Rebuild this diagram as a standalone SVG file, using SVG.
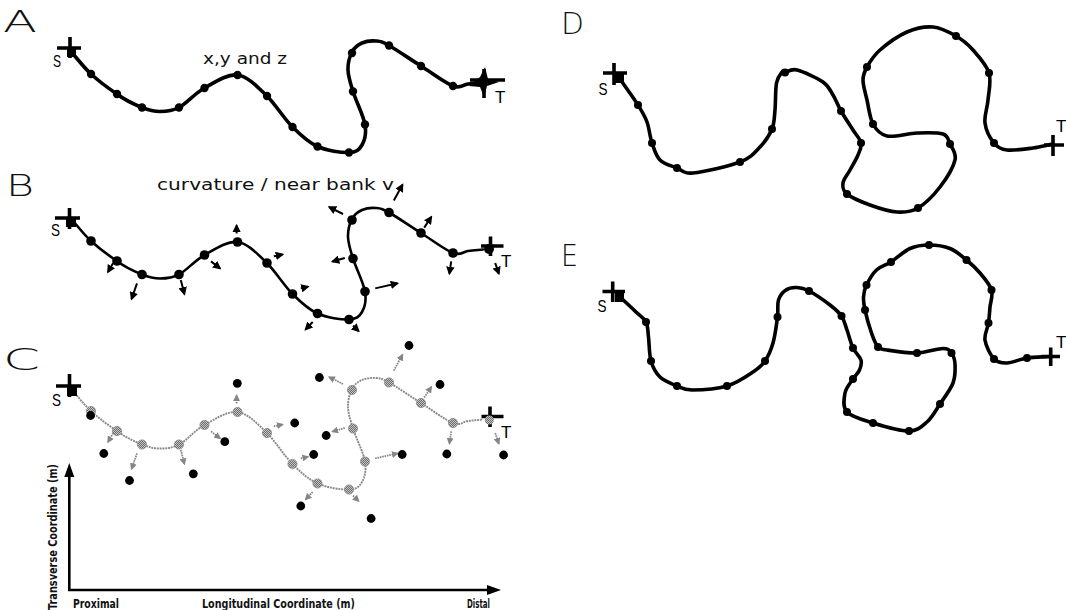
<svg xmlns="http://www.w3.org/2000/svg" xmlns:xlink="http://www.w3.org/1999/xlink" width="1066" height="610" viewBox="0 0 1066 610">
  <style>
    .panel-label { font-family: 'DejaVu Sans', 'Liberation Sans', sans-serif; font-weight: 200; font-size: 30px; fill: #111; }
    .note { font-family: 'DejaVu Sans', 'Liberation Sans', sans-serif; font-size: 15px; fill: #111; }
    .end-label { font-family: 'Liberation Sans', 'DejaVu Sans', sans-serif; font-size: 17px; fill: #000; }
    .axis-text { font-family: 'DejaVu Sans', 'Liberation Sans', sans-serif; font-weight: bold; font-size: 12.5px; fill: #111; }
    .bar { fill: none; stroke: #000; stroke-width: 3.6; }
    .river-a { fill: none; stroke: #000; stroke-width: 3.6; stroke-linejoin: round; stroke-linecap: round; }
    .river-b { fill: none; stroke: #000; stroke-width: 2.6; stroke-linejoin: round; stroke-linecap: round; }
    .river-c { fill: none; stroke: #8a8a8a; stroke-width: 1.9; stroke-dasharray: 2 0.8; stroke-linejoin: round; }
    .river-de { fill: none; stroke: #000; stroke-width: 3.6; stroke-linejoin: round; stroke-linecap: round; }
    .vec-b { stroke: #000; stroke-width: 2; marker-end: url(#head-black); }
    .vec-c { stroke: #868686; stroke-width: 1.8; stroke-dasharray: 1.6 0.8; marker-end: url(#head-grey); }
    .axis { stroke: #000; stroke-width: 2.6; fill: none; }
  </style>
  <defs>
    <marker id="head-black" viewBox="0 0 10 10" refX="8" refY="5" markerWidth="8.5" markerHeight="8.5" markerUnits="userSpaceOnUse" orient="auto">
      <path d="M0,0 L10,5 L0,10 z" fill="#000"/>
    </marker>
    <marker id="head-grey" viewBox="0 0 10 10" refX="8" refY="5" markerWidth="7" markerHeight="7" markerUnits="userSpaceOnUse" orient="auto">
      <path d="M0,0 L10,5 L0,10 z" fill="#858585"/>
    </marker>
    <pattern id="grain" width="2" height="2" patternUnits="userSpaceOnUse">
      <rect width="2" height="2" fill="#c4c4c4"/>
      <rect width="1" height="1" fill="#6c6c6c"/>
      <rect x="1" y="1" width="1" height="1" fill="#6c6c6c"/>
    </pattern>

    <!-- channel centreline shared by panels A, B and C -->
    <path id="channel-abc" d="M73,54 C79,60.7 83.7,67.3 91,74 C98.3,80.7 108.5,88.4 117,94 C124.2,99.6 134.8,104.6 142,107.5 C149.2,110.4 153.8,111.5 160,111.5 C166.2,111.5 171.6,111.4 179,107.5 C186.4,103.6 194.75,93.4 204.5,88 C214.25,82.6 227.1,73.7 237.5,75 C247.9,76.3 257.8,87.3 267,96 C275.4,104.4 284.1,118.6 292.5,127 C300.9,135.4 308.1,142.25 317.5,146.5 C326.9,150.75 341.6,152.75 349,152.5 C356.4,152.25 359.3,149.7 362,145 C364.7,140.3 366.5,133.4 365,124.5 C363.5,115.6 355.8,100.6 353,91.5 C350.2,82.4 348.2,76.6 348,70 C347.8,63.4 349.7,56.5 352,52 C354.3,47.5 358,44.8 362,43 C366,41.2 371.5,40.6 376,41 C380.5,41.4 381.5,41.3 389,45.5 C396.5,49.7 410.3,59.25 421,66 C431.7,72.75 445.2,83 453,86 C460.8,89 463,84.6 468,84 C473,83.4 478,83 483,82.5"/>

    <!-- near-bank velocity vectors, drawn in panel A coordinates -->
    <g id="bank-vectors">
      <line x1="113.2" y1="96" x2="108" y2="105"/>
      <line x1="137" y1="116.4" x2="131.6" y2="132"/>
      <line x1="180.8" y1="113" x2="184.4" y2="127"/>
      <line x1="211" y1="94.4" x2="220" y2="101.4"/>
      <line x1="236.6" y1="66.5" x2="236.6" y2="58.5"/>
      <line x1="273.8" y1="89.3" x2="282.5" y2="87.5"/>
      <line x1="300.8" y1="121.4" x2="308" y2="119.7"/>
      <line x1="312.7" y1="155" x2="305.6" y2="162.4"/>
      <line x1="353" y1="158.6" x2="358.6" y2="164"/>
      <line x1="375.2" y1="121.4" x2="397.5" y2="116.3"/>
      <line x1="344.8" y1="91" x2="332.5" y2="94.5"/>
      <line x1="343" y1="47" x2="329.2" y2="40.1"/>
      <line x1="393.8" y1="33.6" x2="402.5" y2="17.8"/>
      <line x1="424.2" y1="60.6" x2="431.3" y2="50"/>
      <line x1="451.2" y1="94.4" x2="449.4" y2="106.6"/>
      <line x1="495.2" y1="96" x2="498.8" y2="106.6"/>
    </g>
  </defs>

  <rect width="1066" height="610" fill="#fff"/>

  <!-- Panel A: x, y and z of the centreline -->
  <g id="panel-a">
    <text class="panel-label" x="3" y="32" textLength="34" lengthAdjust="spacingAndGlyphs">A</text>
    <text class="note" x="203" y="64" textLength="84" lengthAdjust="spacingAndGlyphs">x,y and z</text>
    <use xlink:href="#channel-abc" class="river-a"/>
    <g id="a-nodes" fill="#000">
      <circle cx="91" cy="74" r="4.2"/><circle cx="117" cy="94" r="4.2"/><circle cx="142" cy="107.5" r="4.2"/>
      <circle cx="179" cy="107.5" r="4.2"/><circle cx="204.5" cy="88" r="4.2"/><circle cx="237.5" cy="75" r="4.2"/>
      <circle cx="267" cy="96" r="4.2"/><circle cx="292.5" cy="127" r="4.2"/><circle cx="317.5" cy="146.5" r="4.2"/>
      <circle cx="349" cy="152.5" r="4.2"/><circle cx="365" cy="124.5" r="4.2"/><circle cx="353" cy="91.5" r="4.2"/>
      <circle cx="352" cy="53" r="4.2"/><circle cx="389" cy="45.5" r="4.2"/><circle cx="421" cy="66" r="4.2"/>
      <circle cx="453" cy="86" r="4.2"/>
    </g>
    <g id="a-source">
      <path class="bar" d="M57,48 H81 M70,37 V58"/>
      <rect x="67" y="48" width="9" height="9" fill="#000"/>
      <text class="end-label" x="53" y="67" textLength="8" lengthAdjust="spacingAndGlyphs">S</text>
    </g>
    <g id="a-target">
      <path class="bar" d="M470,80 H505 M484,69 V98"/>
      <polygon points="469,86 480,77 485,67 488,79 499,82 487,86 484,97 480,87" fill="#000"/>
      <text class="end-label" x="495" y="103" font-size="15">T</text>
    </g>
  </g>

  <!-- Panel B: curvature and near-bank velocity -->
  <g id="panel-b">
    <text class="panel-label" x="6" y="195.5" textLength="28" lengthAdjust="spacingAndGlyphs">B</text>
    <text class="note" x="157" y="190" textLength="237" lengthAdjust="spacingAndGlyphs">curvature / near bank v</text>
    <use xlink:href="#channel-abc" class="river-b" transform="translate(0,167)"/>
    <use xlink:href="#bank-vectors" class="vec-b" transform="translate(0,167)"/>
    <g id="b-nodes" fill="#000" transform="translate(0,167)">
      <circle cx="91" cy="74" r="4.8"/><circle cx="117" cy="94" r="4.8"/><circle cx="142" cy="107.5" r="4.8"/>
      <circle cx="179" cy="107.5" r="4.8"/><circle cx="204.5" cy="88" r="4.8"/><circle cx="237.5" cy="75" r="4.8"/>
      <circle cx="267" cy="96" r="4.8"/><circle cx="292.5" cy="127" r="4.8"/><circle cx="317.5" cy="146.5" r="4.8"/>
      <circle cx="349" cy="152.5" r="4.8"/><circle cx="365" cy="124.5" r="4.8"/><circle cx="353" cy="91.5" r="4.8"/>
      <circle cx="352" cy="53" r="4.8"/><circle cx="389" cy="45.5" r="4.8"/><circle cx="421" cy="66" r="4.8"/>
      <circle cx="453" cy="86" r="4.8"/>
    </g>
    <g id="b-source">
      <path class="bar" d="M55,218 H80 M69.5,208 V229"/>
      <rect x="66" y="217" width="10" height="10" fill="#000"/>
      <text class="end-label" x="51" y="236" textLength="9" lengthAdjust="spacingAndGlyphs">S</text>
    </g>
    <g id="b-target">
      <path class="bar" d="M481,246 H503.5 M490.5,236.5 V256"/>
      <circle cx="489" cy="249" r="5" fill="#000"/>
      <text class="end-label" x="501" y="267" font-size="15">T</text>
    </g>
  </g>

  <!-- Panel C: centreline nodes, vectors and offset bank nodes -->
  <g id="panel-c">
    <text class="panel-label" x="3" y="370" textLength="37" lengthAdjust="spacingAndGlyphs">C</text>
    <use xlink:href="#channel-abc" class="river-c" transform="translate(0,337)"/>
    <use xlink:href="#bank-vectors" class="vec-c" transform="translate(0,337)"/>
    <g id="c-centre-nodes" fill="url(#grain)" stroke="#8c8c8c" stroke-width="0.8" transform="translate(0,337)">
      <circle cx="91" cy="74" r="4.6"/><circle cx="117" cy="94" r="4.6"/><circle cx="142" cy="107.5" r="4.6"/>
      <circle cx="179" cy="107.5" r="4.6"/><circle cx="204.5" cy="88" r="4.6"/><circle cx="237.5" cy="75" r="4.6"/>
      <circle cx="267" cy="96" r="4.6"/><circle cx="292.5" cy="127" r="4.6"/><circle cx="317.5" cy="146.5" r="4.6"/>
      <circle cx="349" cy="152.5" r="4.6"/><circle cx="365" cy="124.5" r="4.6"/><circle cx="353" cy="91.5" r="4.6"/>
      <circle cx="352" cy="53" r="4.6"/><circle cx="389" cy="45.5" r="4.6"/><circle cx="421" cy="66" r="4.6"/>
      <circle cx="453" cy="86" r="4.6"/>
    </g>
    <g id="c-bank-nodes" fill="#000">
      <circle cx="90.6" cy="415.5" r="4.4"/><circle cx="103.8" cy="453.5" r="4.4"/><circle cx="129.5" cy="480.5" r="4.4"/>
      <circle cx="193.3" cy="473.8" r="4.4"/><circle cx="224.8" cy="441.7" r="4.4"/><circle cx="237.3" cy="383.3" r="4.4"/>
      <circle cx="294.7" cy="423" r="4.4"/><circle cx="313.7" cy="454.5" r="4.4"/><circle cx="326.2" cy="435.5" r="4.4"/>
      <circle cx="300.8" cy="506" r="4.4"/><circle cx="371.1" cy="518.5" r="4.4"/><circle cx="402.2" cy="454.5" r="4.4"/>
      <circle cx="319.4" cy="377.5" r="4.4"/><circle cx="409" cy="345.5" r="4.4"/><circle cx="440" cy="384.5" r="4.4"/>
      <circle cx="446.8" cy="454" r="4.4"/><circle cx="503.6" cy="455" r="4.4"/>
    </g>
    <g id="c-source">
      <path class="bar" d="M56,386 H81 M69.5,374 V397"/>
      <rect x="67" y="386" width="10" height="10" fill="#000"/>
      <text class="end-label" x="52" y="405.5" textLength="9" lengthAdjust="spacingAndGlyphs">S</text>
    </g>
    <g id="c-target">
      <path class="bar" d="M481.5,416.5 H503.5 M490,406.5 V427"/>
      <circle cx="489.3" cy="420" r="4.6" fill="url(#grain)"/>
      <text class="end-label" x="501" y="438" font-size="15">T</text>
    </g>
    <g id="c-axes">
      <path class="axis" d="M69.3,591 V474 M68,590 H490"/>
      <polygon points="69.3,463 64.3,477 74.3,477" fill="#000"/>
      <polygon points="501,590 487,585 487,595" fill="#000"/>
      <text class="axis-text" transform="translate(57,537) rotate(-90)" text-anchor="middle" textLength="146" lengthAdjust="spacingAndGlyphs">Transverse Coordinate (m)</text>
      <text class="axis-text" x="73" y="608" textLength="46" lengthAdjust="spacingAndGlyphs">Proximal</text>
      <text class="axis-text" x="202" y="608" textLength="153" lengthAdjust="spacingAndGlyphs">Longitudinal Coordinate (m)</text>
      <text class="axis-text" x="467" y="608" textLength="23" lengthAdjust="spacingAndGlyphs">Distal</text>
    </g>
  </g>

  <!-- Panel D: migrated centreline -->
  <g id="panel-d">
    <text class="panel-label" x="561" y="34" font-size="28" textLength="23" lengthAdjust="spacingAndGlyphs">D</text>
    <path class="river-de" d="M620,79 C626,87.7 633.5,97.8 638,105 C642.5,112.2 644.7,115.7 647,122 C649.3,128.3 649.8,136.7 652,143 C654.2,149.3 655.8,155.8 660,160 C664.2,164.2 671.5,165.8 677,168 C682.5,170.2 682.5,174 693,173 C703.5,172 728.8,166.3 740,162 C751.2,157.7 754.7,152.5 760,147 C765.3,141.5 769.5,135.2 772,129 C774.5,122.8 774.25,117.7 775,110 C775.75,102.3 775.3,89.3 776.5,83 C777.7,76.7 780.6,73.75 782,72 C783.4,70.25 782.5,72.8 785,72.5 C787.5,72.2 790.7,68.4 797,70 C803.3,71.6 817,77.8 823,82 C829,86.2 830,90.2 833,95 C836,99.8 837.7,105.2 841,111 C844.3,116.8 849.7,124.7 853,130 C856.3,135.3 860.2,138.8 861,143 C861.8,147.2 859.8,150.5 858,155 C856.2,159.5 852.5,165.3 850,170 C847.5,174.7 843.5,179 843,183 C842.5,187 842.5,190.3 847,194 C851.5,197.7 861.7,202 870,205 C878.3,208 889,211.5 897,212 C905,212.5 910.8,212.2 918,208 C925.2,203.8 933.8,195 940,187 C946.2,179 953.3,167.2 955,160 C956.7,152.8 952,148.3 950,144 C948,139.7 948.5,135.8 943,134 C937.5,132.2 926.3,132.7 917,133 C907.7,133.3 894.3,137.5 887,136 C879.7,134.5 876.3,130 873,124 C869.7,118 868.7,107.3 867,100 C865.3,92.7 863,85.5 863,80 C863,74.5 864.2,72 867,67 C869.8,62 873.3,55.8 880,50 C886.7,44.2 898.2,35.8 907,32 C915.8,28.2 924.8,26.3 933,27 C941.2,27.7 949.3,32.2 956,36 C962.7,39.8 967.5,43.8 973,50 C978.5,56.2 986.5,64.7 989,73 C991.5,81.3 988.7,91.7 988,100 C987.3,108.3 984,115.8 985,123 C986,130.2 990.3,138.5 994,143 C997.7,147.5 1000.5,149.2 1007,150 C1013.5,150.8 1025.3,149 1033,148 C1040.7,147 1046.3,145.3 1053,144"/>
    <g id="d-nodes" fill="#000">
      <circle cx="638" cy="105" r="4"/><circle cx="652" cy="143" r="4"/><circle cx="677" cy="168" r="4"/>
      <circle cx="740" cy="162" r="4"/><circle cx="772" cy="129" r="4"/><circle cx="785" cy="72.5" r="4"/>
      <circle cx="841" cy="111" r="4"/><circle cx="861" cy="143" r="4"/><circle cx="847" cy="194" r="4"/>
      <circle cx="918" cy="208" r="4"/><circle cx="950" cy="144" r="4"/><circle cx="873" cy="124" r="4"/>
      <circle cx="867" cy="67" r="4"/><circle cx="956" cy="36" r="4"/><circle cx="989" cy="73" r="4"/>
      <circle cx="994" cy="143" r="4"/>
    </g>
    <g id="d-source">
      <path class="bar" d="M603,73 H627 M614,63 V85" stroke-width="3"/>
      <rect x="615" y="73" width="9" height="10" fill="#000"/>
      <text class="end-label" x="598.5" y="95" textLength="9" lengthAdjust="spacingAndGlyphs">S</text>
    </g>
    <g id="d-target">
      <path class="bar" d="M1044,145 H1064 M1053,135 V156" stroke-width="3"/>
      <text class="end-label" x="1056" y="132" font-size="14">T</text>
    </g>
  </g>

  <!-- Panel E: migrated centreline with refined node spacing -->
  <g id="panel-e">
    <text class="panel-label" x="561" y="266" font-size="28" textLength="17" lengthAdjust="spacingAndGlyphs">E</text>
    <path class="river-de" d="M620,297 C625.3,302 631.7,307.8 636,312 C640.3,316.2 643.9,317.8 646,322 C648.1,326.2 647.7,330.5 648.5,337 C649.3,343.5 649.1,354.3 651,361 C652.9,367.7 655.7,372.8 660,377 C664.3,381.2 671.7,383.8 677,386 C682.3,388.2 683.7,390 692,390 C700.3,390 716.8,389 727,386 C737.2,383 746.7,376.2 753,372 C759.3,367.8 761.7,365.8 765,361 C768.3,356.2 770.9,350.3 773,343 C775.1,335.7 776.6,324.2 777.5,317 C778.4,309.8 777.1,304.5 778.5,300 C779.9,295.5 782.9,292.1 786,290 C789.1,287.9 793.2,287.3 797,287.5 C800.8,287.7 803.5,288.1 809,291 C814.5,293.9 824.6,300.8 830,305 C835.4,309.2 838.7,311.8 841.5,316 C844.3,320.2 845.1,324.7 847,330 C848.9,335.3 850.7,343 853,348 C855.3,353 859.9,356.3 861,360 C862.1,363.7 860.8,366.8 859.5,370 C858.2,373.2 855.4,375.2 853,379 C850.6,382.8 846,387.5 845,393 C844,398.5 842.3,407 847,412 C851.7,417 862.7,419.8 873,423 C883.3,426.2 900,431.2 909,431 C918,430.8 921.8,426.5 927,422 C932.2,417.5 935.7,410.5 940,404 C944.3,397.5 950.5,389.7 953,383 C955.5,376.3 955.25,369 955,364 C954.75,359 953.5,355.6 951.5,353 C949.5,350.4 948.75,348.5 943,348.5 C937.25,348.5 926.3,352.75 917,353 C907.7,353.25 893.5,351 887,350 C880.5,349 880.6,349.8 878,347 C875.4,344.2 873.7,339.2 871.5,333 C869.3,326.8 866.3,316 865,310 C863.7,304 863.25,301.2 863.5,297 C863.75,292.8 864.3,289.5 866.5,285 C868.7,280.5 872.4,273.8 876.5,270 C880.6,266.2 885.4,265.6 891,262 C896.6,258.4 903.7,251.3 910,248.5 C916.3,245.7 922.3,245 929,245 C935.7,245 943.75,246 950,248.5 C956.25,251 961.5,255.9 966.5,260 C971.5,264.1 975.8,268 980,273 C984.2,278 989.8,284.3 991.5,290 C993.2,295.7 990.5,301.5 990,307 C989.5,312.5 989.3,317.5 988.5,323 C987.7,328.5 984.1,334 985,340 C985.9,346 990.3,355.2 994,359 C997.7,362.8 1001.5,363.2 1007,363 C1012.5,362.8 1019.8,359.1 1027,358 C1034.2,356.9 1042.3,357 1050,356.5"/>
    <g id="e-nodes" fill="#000">
      <circle cx="646" cy="322" r="4"/><circle cx="651" cy="361" r="4"/><circle cx="677" cy="386" r="4"/>
      <circle cx="727" cy="386" r="4"/><circle cx="765" cy="361" r="4"/><circle cx="777.5" cy="317" r="4"/>
      <circle cx="809" cy="291" r="4"/><circle cx="841.5" cy="316" r="4"/><circle cx="853" cy="348" r="4"/>
      <circle cx="853" cy="379" r="4"/><circle cx="847" cy="412" r="4"/><circle cx="873" cy="423" r="4"/>
      <circle cx="909" cy="431" r="4"/><circle cx="940" cy="404" r="4"/><circle cx="951.5" cy="353" r="4"/>
      <circle cx="917" cy="353" r="4"/><circle cx="878" cy="347" r="4"/><circle cx="865" cy="310" r="4"/>
      <circle cx="866.5" cy="285" r="4"/><circle cx="891" cy="262" r="4"/><circle cx="929" cy="245" r="4"/>
      <circle cx="966.5" cy="260" r="4"/><circle cx="991.5" cy="290" r="4"/><circle cx="988.5" cy="323" r="4"/>
      <circle cx="994" cy="359" r="4"/><circle cx="1027" cy="358" r="4"/>
    </g>
    <g id="e-source">
      <path class="bar" d="M602.5,291.5 H625 M612.7,281.5 V302" stroke-width="3"/>
      <rect x="615" y="292" width="9" height="10" fill="#000"/>
      <text class="end-label" x="597.5" y="312" textLength="9" lengthAdjust="spacingAndGlyphs">S</text>
    </g>
    <g id="e-target">
      <path class="bar" d="M1041.5,356.5 H1060 M1050.7,347.5 V366" stroke-width="3"/>
      <text class="end-label" x="1056" y="348" font-size="14">T</text>
    </g>
  </g>
</svg>
